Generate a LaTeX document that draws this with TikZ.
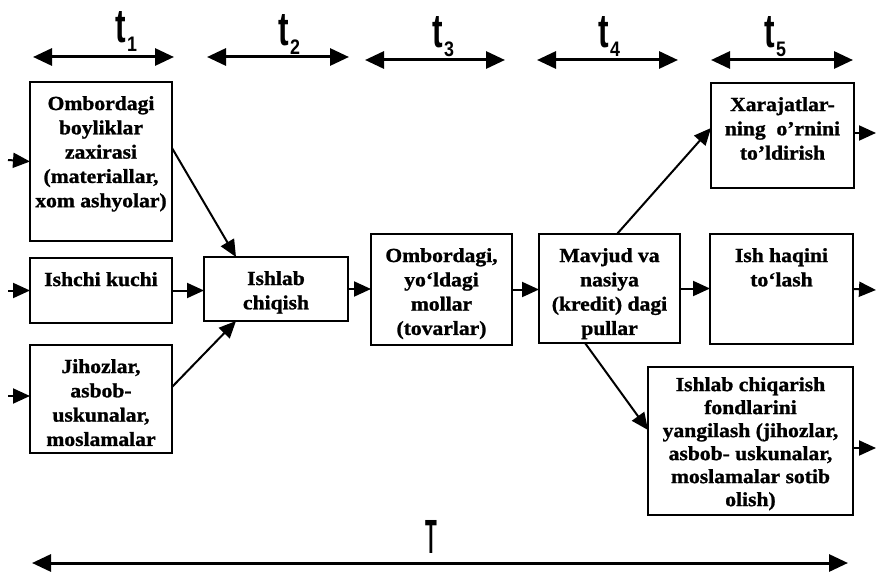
\documentclass[tikz,border=0pt]{standalone}
\usepackage{fontspec}
\setmainfont{Liberation Serif}[FakeStretch=1.08, BoldFeatures={FakeBold=1.2}]
\newfontfamily\lsans{Liberation Sans}
\usetikzlibrary{arrows.meta}
\newcommand{\bxtext}[3]{\parbox[c][#2][t]{#1}{\centering\fontsize{20}{24.3}\selectfont\bfseries\vspace*{11pt}\strut #3\par}}
\newcommand{\tsym}[1]{\lsans\bfseries\fontsize{44}{44}\selectfont\scalebox{0.72}[1.08]{t}\kern1.5pt\raisebox{-9pt}{\fontsize{21}{21}\selectfont\scalebox{0.85}[1]{#1}}}
\tikzset{
  boxnode/.style={draw, line width=1.4pt, inner sep=0pt, outer sep=0pt},
  conn/.style={line width=2pt, -{Triangle[length=17pt,width=15pt]}},
  tarr/.style={line width=3pt, {Triangle[length=19pt,width=17pt]}-{Triangle[length=19pt,width=17pt]}},
  tlab/.style={anchor=base, inner sep=0pt}
}
\begin{document}
\begin{tikzpicture}[x=1pt,y=-1pt]
\useasboundingbox (0,0) rectangle (878,572);
% time arrows
\coordinate (t1l) at (33,57);  \coordinate (t1r) at (174,57);
\coordinate (t2l) at (207,57); \coordinate (t2r) at (349,57);
\coordinate (t3l) at (365,60); \coordinate (t3r) at (505,60);
\coordinate (t4l) at (537,60); \coordinate (t4r) at (678,60);
\coordinate (t5l) at (711,60); \coordinate (t5r) at (853,60);
\draw[tarr] (t1l) -- (t1r);
\draw[tarr] (t2l) -- (t2r);
\draw[tarr] (t3l) -- (t3r);
\draw[tarr] (t4l) -- (t4r);
\draw[tarr] (t5l) -- (t5r);
\node[tlab] (L1) at (126,43) {\tsym{1}};
\node[tlab] (L2) at (289,46) {\tsym{2}};
\node[tlab] (L3) at (443,48) {\tsym{3}};
\node[tlab] (L4) at (609,48) {\tsym{4}};
\node[tlab] (L5) at (775,48) {\tsym{5}};
% boxes
\node[boxnode] (A) at (101,161.5) {\bxtext{142pt}{159pt}{Ombordagi\\boyliklar\\zaxirasi\\(materiallar,\\xom ashyolar)}};
\node[boxnode] (B) at (101,290.5) {\bxtext{142pt}{65pt}{Ishchi kuchi}};
\node[boxnode] (C) at (101,399) {\bxtext{142pt}{108pt}{Jihozlar,\\asbob-\\uskunalar,\\moslamalar}};
\node[boxnode] (P) at (276,289) {\bxtext{144pt}{64pt}{Ishlab\\chiqish}};
\node[boxnode] (O) at (441.5,289.5) {\bxtext{141pt}{111pt}{Ombordagi,\\yo‘ldagi\\mollar\\(tovarlar)}};
\node[boxnode] (M) at (609.5,288.5) {\bxtext{141pt}{109pt}{Mavjud va\\nasiya\\(kredit) dagi\\pullar}};
\node[boxnode] (X) at (782.5,135.5) {\bxtext{143pt}{105pt}{Xarajatlar-\\ning~ o’rnini\\to’ldirish}};
\node[boxnode] (H) at (781.5,289) {\bxtext{143pt}{110pt}{Ish haqini\\to‘lash}};
\node[boxnode] (F) at (750.5,441) {\parbox[c][148pt][t]{205pt}{\centering\fontsize{20}{23}\selectfont\bfseries\vspace*{8pt}\strut Ishlab chiqarish\\fondlarini\\yangilash (jihozlar,\\asbob- uskunalar,\\moslamalar sotib\\olish)\par}};
% free ends
\coordinate (inA) at (8,160);
\coordinate (inB) at (8,290.5);
\coordinate (inC) at (8,396);
\coordinate (outX) at (876,133);
\coordinate (outH) at (876,290);
\coordinate (outF) at (876,448);
% connectors
\draw[conn] (inA) -- (A.west);
\draw[conn] (inB) -- (B.west);
\draw[conn] (inC) -- ([yshift=3pt]C.west);
\draw[conn] ([yshift=13.5pt]A.east) -- ([xshift=-40pt]P.north);
\draw[conn] (B.east) -- (B.east -| P.west);
\draw[conn] ([yshift=12pt]C.east) -- ([xshift=-40pt]P.south);
\draw[conn] (P.east) -- (P.east -| O.west);
\draw[conn] (O.east) -- (O.east -| M.west);
\draw[conn] ([xshift=7.5pt]M.north) -- ([yshift=7.5pt]X.west);
\draw[conn] (M.east) -- (M.east -| H.west);
\draw[conn] ([xshift=-24.5pt]M.south) -- ([yshift=11pt]F.west);
\draw[conn] ([yshift=2.5pt]X.east) -- (outX);
\draw[conn] (H.east) -- (outH);
\draw[conn] ([yshift=-7pt]F.east) -- (outF);
% total time
\coordinate (Tl) at (32,563);
\coordinate (Tr) at (848,563);
\draw[tarr] (Tl) -- (Tr);
\node[tlab] (T) at (431,553) {\lsans\bfseries\fontsize{48}{48}\selectfont\scalebox{0.4}[1]{T}};
\end{tikzpicture}
\end{document}
